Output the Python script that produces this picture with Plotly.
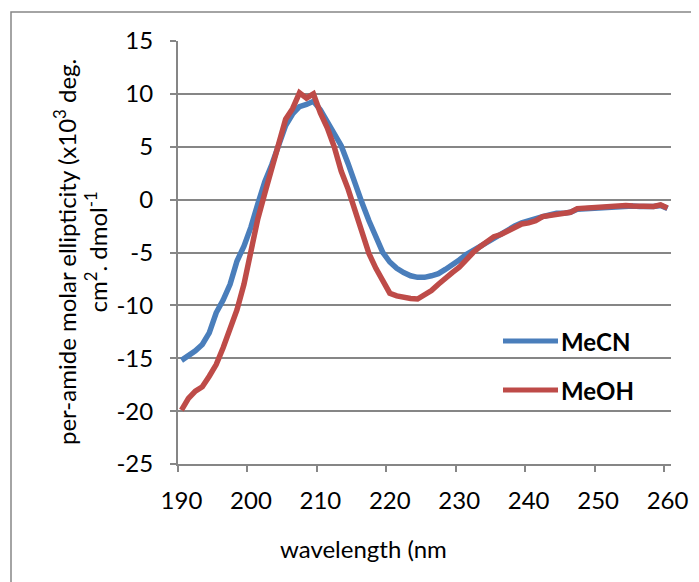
import plotly.graph_objects as go

wavelength = list(range(190, 261))

mecn = [-15.2, -14.8, -14.3, -13.7, -12.6, -10.7, -9.5, -8.0, -5.8, -4.4,
        -2.6, -0.4, 1.7, 3.3, 5.0, 7.0, 8.1, 8.8, 9.0, 9.3,
        8.5, 7.4, 6.3, 5.1, 3.4, 1.4, -0.3, -2.0, -3.5, -5.0,
        -5.9, -6.5, -6.9, -7.2, -7.35, -7.35, -7.2, -7.0, -6.6, -6.2,
        -5.7, -5.2, -4.8, -4.4, -4.0, -3.6, -3.2, -2.9, -2.5, -2.2,
        -2.0, -1.7, -1.6, -1.45, -1.3, -1.3, -1.2, -0.9, -0.85, -0.85,
        -0.85, -0.8, -0.7, -0.6, -0.55, -0.6, -0.65, -0.7, -0.65, -0.55,
        -0.85]

meoh = [-19.9, -18.8, -18.1, -17.7, -16.7, -15.6, -14.0, -12.3, -10.4, -8.0,
        -4.9, -1.8, 0.6, 3.0, 5.0, 7.6, 8.6, 10.1, 9.6, 10.0,
        8.2, 6.8, 5.0, 2.7, 1.0, -1.1, -3.2, -5.1, -6.5, -7.6,
        -8.85, -9.1, -9.25, -9.35, -9.4, -9.0, -8.6, -8.0, -7.4, -6.9,
        -6.4, -5.6, -5.0, -4.45, -4.0, -3.5, -3.3, -3.0, -2.6, -2.3,
        -2.2, -2.0, -1.6, -1.5, -1.3, -1.2, -1.2, -0.85, -0.8, -0.8,
        -0.8, -0.75, -0.65, -0.55, -0.55, -0.6, -0.65, -0.7, -0.65, -0.5,
        -0.8]

series_names = ["MeCN", "MeOH"]
colors = ["#4A7EBB", "#BE4B48"]
x_ticks = [190, 200, 210, 220, 230, 240, 250, 260]
y_ticks = [15, 10, 5, 0, -5, -10, -15, -20, -25]

FONT = "Lato"
FS = 24
OFF = 8  # browser body margin
W, H = 699 - OFF, 582 - OFF
L, R, T, B = 178 - OFF, 671 - OFF, 41 - OFF, 464 - OFF  # plot area in px


def px2paper(px, py):
    # px, py given in reference-screenshot coordinates
    px -= OFF
    py -= OFF
    return (px - L) / (R - L), (B - py) / (B - T)


fig = go.Figure()
for name, vals, col in zip(series_names, [mecn, meoh], colors):
    fig.add_trace(go.Scatter(x=wavelength, y=vals, mode="lines", name=name,
                             line=dict(color=col, width=5.5), showlegend=False))

grid = "#868686"
# category-style axis: points centred in 1-nm slots, tick marks on slot edges
x_marks = [v - 0.5 for v in x_ticks]
fig.update_layout(
    width=W, height=H,
    margin=dict(l=L, r=W - R, t=T, b=H - B),
    paper_bgcolor="white", plot_bgcolor="white",
    font=dict(family=FONT, size=FS, color="black"),
    xaxis=dict(range=[wavelength[0] - 0.5, wavelength[-1] + 0.5],
               tickvals=x_ticks, ticktext=[str(v) for v in x_ticks],
               ticks="", showgrid=False, showline=True,
               linecolor=grid, linewidth=2, zeroline=False,
               minor=dict(tickvals=x_marks, ticks="outside", ticklen=6,
                          tickcolor=grid, tickwidth=2, showgrid=False),
               tickfont=dict(family=FONT, size=FS), ticklabelstandoff=14),
    yaxis=dict(range=[-25, 15], tickvals=y_ticks,
               ticktext=[str(v) for v in y_ticks], ticks="outside", ticklen=6,
               tickcolor=grid, tickwidth=2, showgrid=True, gridcolor=grid,
               gridwidth=2, showline=True, linecolor=grid, linewidth=2,
               zeroline=False, tickfont=dict(family=FONT, size=FS),
               ticklabelstandoff=12),
)

shapes = []
# outer chart frame
fx0, fy0 = px2paper(11, 600)
fx1, fy1 = px2paper(720, 12)
shapes.append(dict(type="rect", xref="paper", yref="paper", x0=fx0, y0=fy0,
                   x1=fx1, y1=fy1, line=dict(color=grid, width=1.5),
                   layer="below"))
# manual legend
annotations = []
for i, (name, col) in enumerate(zip(series_names, colors)):
    ly = 341 + i * 49
    x0, y0 = px2paper(503, ly)
    x1, _ = px2paper(558, ly)
    shapes.append(dict(type="line", xref="paper", yref="paper", x0=x0, x1=x1,
                       y0=y0, y1=y0, line=dict(color=col, width=5)))
    tx, _ = px2paper(559, ly)
    annotations.append(dict(xref="paper", yref="paper", x=tx, y=y0,
                            text="<b>" + name + "</b>", showarrow=False,
                            xanchor="left", yanchor="middle",
                            font=dict(family=FONT, size=FS, color="black")))

# axis titles
ax, ay = px2paper(363, 548)
annotations.append(dict(xref="paper", yref="paper", x=ax, y=ay,
                        text="wavelength (nm", showarrow=False,
                        xanchor="center", yanchor="middle",
                        font=dict(family=FONT, size=FS)))
yx, yy = px2paper(80, 252)
annotations.append(dict(xref="paper", yref="paper", x=yx, y=yy,
                        text="per-amide molar ellipticity (x10<sup>3</sup> deg.<br>cm<sup>2</sup>. dmol<sup>-1</sup>",
                        showarrow=False, textangle=-90, align="center",
                        xanchor="center", yanchor="middle",
                        font=dict(family=FONT, size=FS)))

fig.update_layout(shapes=shapes, annotations=annotations)
fig.write_html("out.html")
